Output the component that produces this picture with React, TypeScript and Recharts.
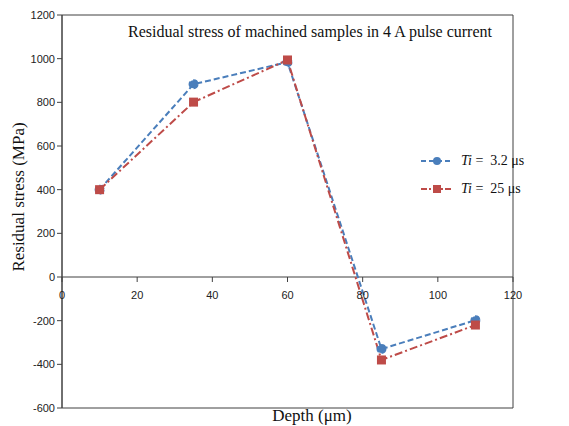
import { LineChart, Line, XAxis, YAxis, ReferenceLine, ReferenceArea } from 'recharts';

const depths = [10, 35, 60, 85, 110];
const stressShort = [400, 883, 984, -330, -198];
const stressLong = [400, 801, 994, -380, -220];
const xTicks = [0, 20, 40, 60, 80, 100, 120];
const yTicks = [-600, -400, -200, 0, 200, 400, 600, 800, 1000, 1200];

const data = depths.map((d, i) => ({ depth: d, short: stressShort[i], long: stressLong[i] }));

const W = 569;
const H = 426;
const margin = { top: 15, right: 56, bottom: 0, left: 2 };
const xAxisH = 18;
const plotH = H - margin.top - margin.bottom - xAxisH;
const zeroY = margin.top + plotH * (1200 / 1800);

const BLUE = '#4a7ebb';
const RED = '#be4b48';
const AXIS = '#404040';
const SERIF = 'Liberation Serif, Times New Roman, serif';

function ZeroTick(props: { x?: number; payload?: { value: number } }) {
    const x = props.x ?? 0;
    return (
        <g>
            <line x1={x} x2={x} y1={zeroY} y2={zeroY + 5} stroke={AXIS} />
            <text x={x} y={zeroY + 22} textAnchor="middle" fontSize={11} fill="#222" fontFamily="Liberation Sans, Arial">
                {props.payload?.value}
            </text>
        </g>
    );
}

function LegendBox() {
    const rows = [
        { color: BLUE, dash: '5 3', shape: 'circle', val: '3.2' },
        { color: RED, dash: '6 2 2 2', shape: 'square', val: '25' },
    ];
    return (
        <div style={{ position: 'absolute', left: 420, top: 147, fontFamily: SERIF, fontSize: 14, color: '#111' }}>
            {rows.map((r) => (
                <div key={r.val} style={{ display: 'flex', alignItems: 'center', height: 28 }}>
                    <svg width={34} height={12}>
                        <line x1={1} x2={33} y1={6} y2={6} stroke={r.color} strokeWidth={2} strokeDasharray={r.dash} />
                        {r.shape === 'circle'
                            ? <circle cx={17} cy={6} r={4} fill={r.color} />
                            : <rect x={13} y={2} width={8} height={8} fill={r.color} />}
                    </svg>
                    <span style={{ marginLeft: 7 }}><i>Ti</i> =&nbsp; {r.val} μs</span>
                </div>
            ))}
        </div>
    );
}

export default function App() {
    return (
        <div style={{ position: 'absolute', left: 0, top: 0, width: W, height: H, background: '#fff' }}>
            <LineChart width={W} height={H} data={data} margin={margin}>
                <ReferenceArea x1={0} x2={120} y1={-600} y2={1200} fill="none" stroke={AXIS} strokeWidth={1} ifOverflow="visible" />
                <XAxis
                    dataKey="depth"
                    type="number"
                    domain={[0, 120]}
                    ticks={xTicks}
                    axisLine={false}
                    tickLine={false}
                    tick={<ZeroTick />}
                    height={xAxisH}
                />
                <YAxis
                    type="number"
                    domain={[-600, 1200]}
                    ticks={yTicks}
                    width={60}
                    stroke={AXIS}
                    tickSize={5}
                    tick={{ fontSize: 11, fill: '#222', fontFamily: 'Liberation Sans, Arial' }}
                />
                <ReferenceLine y={0} stroke={AXIS} strokeWidth={1} />
                <Line type="linear" dataKey="short" name="Ti = 3.2 μs" stroke={BLUE} strokeWidth={2} strokeDasharray="6 3"
                    dot={{ r: 4, fill: BLUE, stroke: BLUE }} isAnimationActive={false} />
                <Line type="linear" dataKey="long" name="Ti = 25 μs" stroke={RED} strokeWidth={2} strokeDasharray="8 3 2 3"
                    dot={(p: { cx?: number; cy?: number; index?: number }) => (
                        <rect key={p.index} x={(p.cx ?? 0) - 4.5} y={(p.cy ?? 0) - 4.5} width={9} height={9} fill={RED} />
                    )} isAnimationActive={false} />
                <text x={310} y={37} textAnchor="middle" fontSize={16} fill="#111" fontFamily={SERIF}>
                    Residual stress of machined samples in 4 A pulse current
                </text>
                <text x={312} y={421} textAnchor="middle" fontSize={17} fill="#111" fontFamily={SERIF}>
                    Depth (μm)
                </text>
                <text x={24} y={197} transform="rotate(-90 24 197)" textAnchor="middle" fontSize={17} fill="#111" fontFamily={SERIF}>
                    Residual stress (MPa)
                </text>
            </LineChart>
            <LegendBox />
        </div>
    );
}
